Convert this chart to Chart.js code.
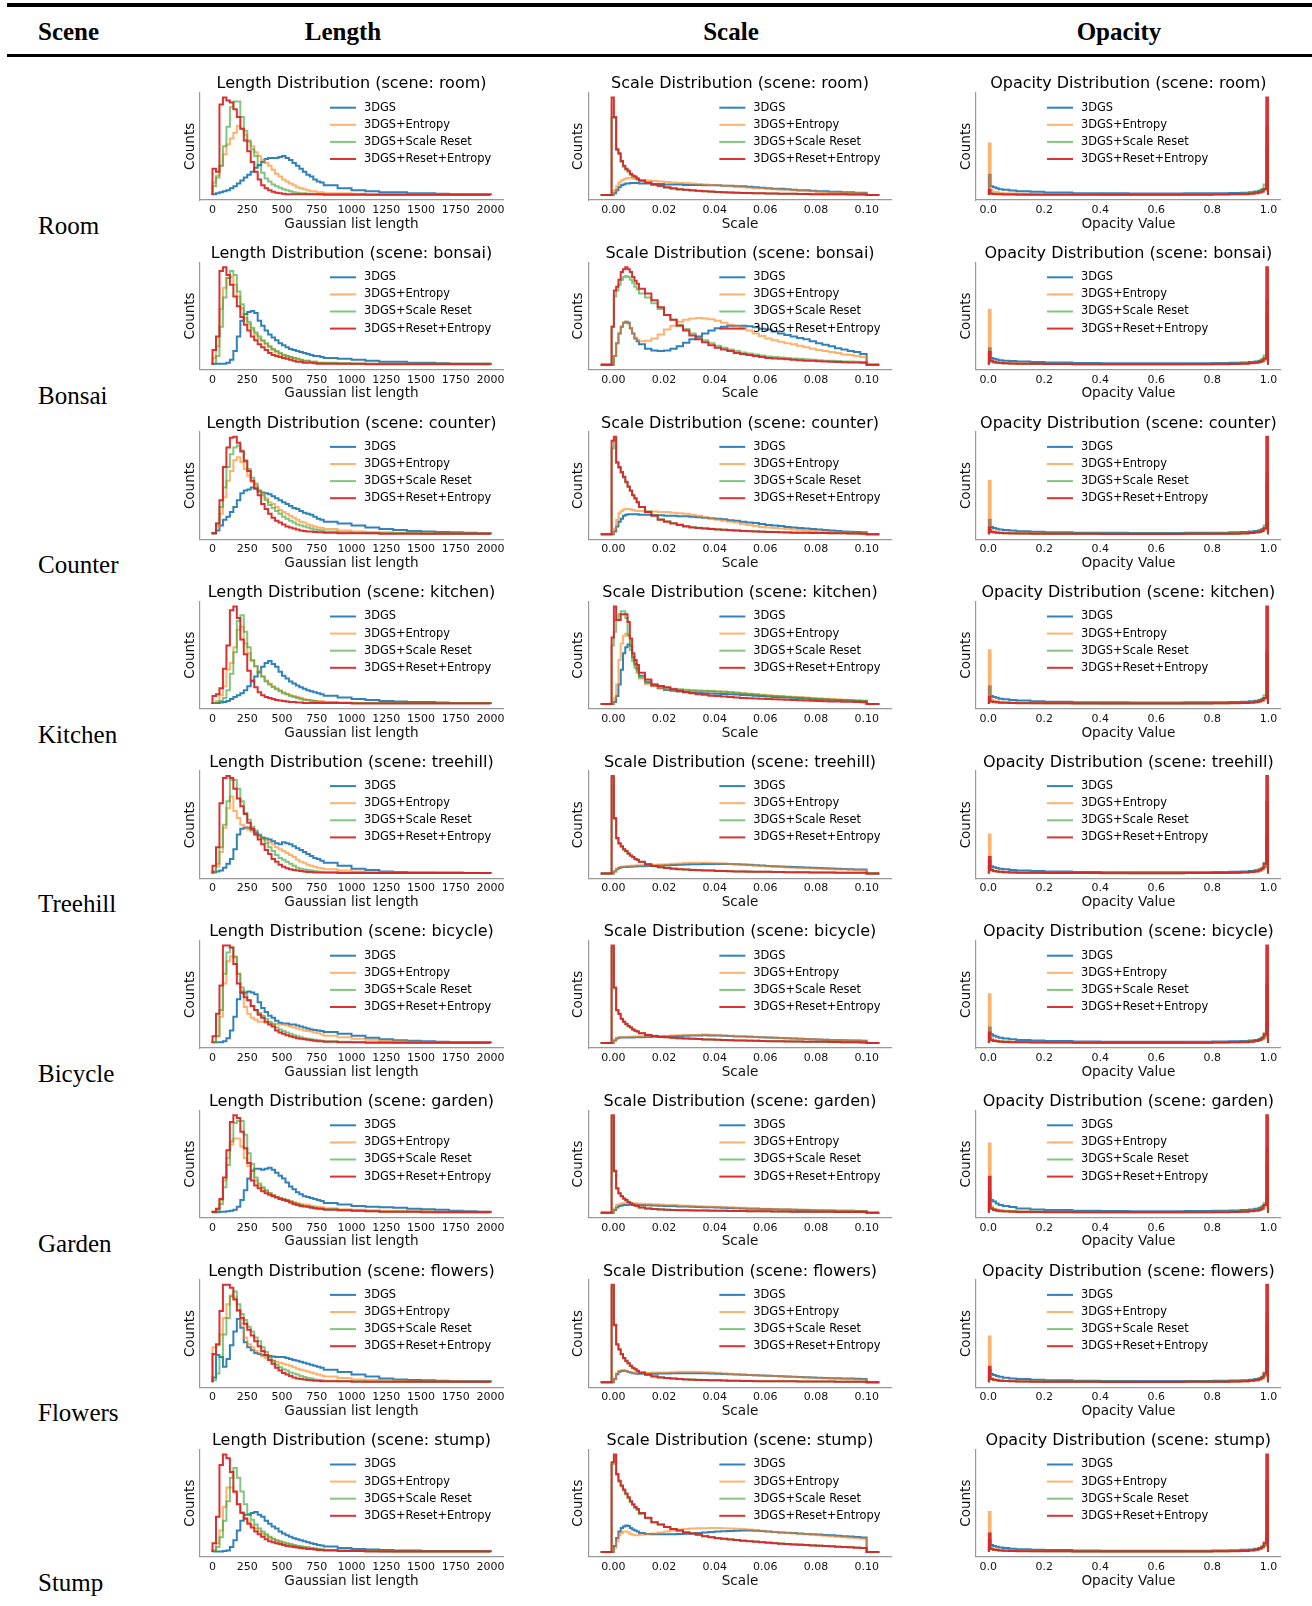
<!DOCTYPE html>
<html>
<head>
<meta charset="utf-8">
<script src="https://cdn.jsdelivr.net/npm/chart.js@4.4.1/dist/chart.umd.min.js"></script>
<style>
  body { margin: 0; background: #fff; width: 1312px; height: 1606px; position: relative; overflow: hidden; }
  .rule { position: absolute; left: 7px; width: 1305px; background: #000; }
  .head { position: absolute; top: 15px; height: 34px; line-height: 34px; font-family: "Liberation Serif", "Times New Roman", serif; font-weight: bold; font-size: 25px; color: #000; }
  .scene { position: absolute; left: 38px; height: 30px; line-height: 30px; font-family: "Liberation Serif", "Times New Roman", serif; font-size: 25px; color: #000; }
  canvas { position: absolute; }
</style>
</head>
<body>
<div class="rule" style="top:3px;height:4px"></div>
<div class="rule" style="top:54px;height:3px"></div>
<div class="head" style="left:38px">Scene</div>
<div class="head" style="left:243px;width:200px;text-align:center">Length</div>
<div class="head" style="left:631px;width:200px;text-align:center">Scale</div>
<div class="head" style="left:1019px;width:200px;text-align:center">Opacity</div>

<script>
// series + scenes
const seriesNames = ['3DGS', '3DGS+Entropy', '3DGS+Scale Reset', '3DGS+Reset+Entropy'];
const seriesColors = ['rgba(31,119,180,0.92)', 'rgba(255,127,14,0.6)', 'rgba(44,160,44,0.6)', 'rgba(214,39,40,0.95)'];
const scenes = ['room', 'bonsai', 'counter', 'kitchen', 'treehill', 'bicycle', 'garden', 'flowers', 'stump'];
const sceneLabels = ['Room', 'Bonsai', 'Counter', 'Kitchen', 'Treehill', 'Bicycle', 'Garden', 'Flowers', 'Stump'];

// bin edges
const lengthEdges = [0,25,50,75,100,125,150,175,200,225,250,275,300,325,350,375,400,425,450,475,500,525,550,575,600,625,650,675,700,725,750,775,800,900,1000,1100,1200,1300,1400,1500,1600,1700,1800,1900,2000];
const scaleEdges = [-0.0007,0.0002,0.0011,0.002,0.0029,0.0038,0.0047,0.0056,0.0065,0.0074,0.0083,0.0092,0.0101,0.0125,0.015,0.0175,0.02,0.0225,0.025,0.0275,0.03,0.0325,0.035,0.0375,0.04,0.0425,0.045,0.0475,0.05,0.0525,0.055,0.0575,0.06,0.0625,0.065,0.0675,0.07,0.0725,0.075,0.0775,0.08,0.0825,0.085,0.0875,0.09,0.0925,0.095,0.0975,0.1];
const scalePad = [-0.005, 0.105];
const opacityEdges = [0.002,0.008,0.017,0.027,0.037,0.052,0.075,0.1,0.15,0.2,0.3,0.4,0.5,0.6,0.7,0.8,0.86,0.9,0.93,0.95,0.965,0.975,0.983,0.9925,0.9985];

// ticks
const lengthTicks = [0,250,500,750,1000,1250,1500,1750,2000];
const lengthTickLabels = ['0','250','500','750','1000','1250','1500','1750','2000'];
const scaleTicks = [0,0.02,0.04,0.06,0.08,0.1];
const scaleTickLabels = ['0.00','0.02','0.04','0.06','0.08','0.10'];
const opacityTicks = [0,0.2,0.4,0.6,0.8,1.0];
const opacityTickLabels = ['0.0','0.2','0.4','0.6','0.8','1.0'];

// length histograms (% of panel max), rows: 3DGS, +Entropy, +Scale Reset, +Reset+Entropy
const lenRoom = [
  [1,2,3,4,5,7,9,12,15,18,21,24,28,31,34,37,38,38,38,39,40,38,36,33,30,27,24,21,19,16,14,13, 10,7,5,4,3,3,2,2,1.5,1,1,1],
  [13,20,30,42,52,58,64,71,68,62,56,50,44,40,36,33,30,26,22,19,16,14,12,10,8,7,6,5,4,4,3,3, 2,2,1.5,1,1,1,1,1,1,1,1,1],
  [9,18,30,50,70,90,96,96,80,66,55,47,40,30,23,17,14,11,9,7.5,6,5,4,3,2.5,2,2,1.5,1.5,1,1,1, 1,1,1,0.5,0.5,0.5,0.5,0.5,0.5,0.5,0.5,0.5],
  [27,24,93,100,97,95,88,80,68,56,45,34,24,16,10,7,5,3.5,2.5,2,1.5,1,1,1,1,1,1,1,1,1,1,1, 0.5,0.5,0.5,0.5,0.5,0.5,0.5,0.5,0.5,0.5,0.5,0.5]
];
const lenBonsai = [
  [1,1,1,1,2,5,14,29,45,52,54,55,53,45,40,35,31,28,25,22,20,18,16,15,14,13,12,11,10,9,9,8, 7,6,5,4,3,3,2,2,1.5,1,1,1],
  [7,19,57,79,89,90,82,70,58,48,42,36,31,27,24,21,18,15,13,11,10,9,8,7,6,5,4,4,3,3,2,2, 1.5,1,1,1,1,1,1,1,1,1,1,1],
  [1,9,39,69,89,96,92,75,62,52,44,38,33,29,25,22,19,16,14,12,10,9,8,7,6,5,4,4,3,3,2,2, 2,1.5,1,1,1,1,1,1,1,1,1,1],
  [15,29,96,100,92,82,70,60,49,41,35,29,25,21,18,15,12,10,9,8,7,6,5,4,3,3,2,2,2,1.5,1,1, 1,1,1,0.5,0.5,0.5,0.5,0.5,0.5,0.5,0.5,0.5]
];
const lenCounter = [
  [1,4,9,15,18,23,28,35,42,45,46,48,47,44,43,42,41,39,37,35,33,31,29,27,26,24,22,21,20,18,16,15, 13,11,9,7,5.5,4.5,3.5,3,2.5,2,1.5,1],
  [1,8,21,38,55,65,76,79,74,67,60,54,50,45,42,37,33,31,28,25,23,21,19,17,15,13,12,10,9,8,7,6.5, 5.5,4,3,2.5,2,1.5,1.5,1,1,1,1,1],
  [1,11,28,48,69,82,89,91,86,76,67,58,52,45,40,35,30,27,24,21,18,16,14,12,10,9,8,7,6,5,4.5,4, 3,2,1.5,1,1,1,1,0.5,0.5,0.5,0.5,0.5],
  [1,11,35,69,89,99,100,94,85,75,65,55,47,40,31,26,21,17,14,12,10,8,7,6,5,4,3.5,3,3,2.5,2,2, 1.5,1,1,1,0.5,0.5,0.5,0.5,0.5,0.5,0.5,0.5]
];
const lenKitchen = [
  [1,1,1.5,2,3,5,7,9,11,14,18,23,28,33,38,42,44,41,38,33,29,26,23,21,19,17,15.5,14,13,12,11,10, 8.5,6.5,5,4,3,2.5,2,2,1.5,1,1,1],
  [1,3,9,18,35,42,58,76,79,62,52,44,38,33,28,24,21,18,16,14,12,10,9,8,7,6,5,4,4,3,3,3, 2,1.5,1,1,1,1,1,1,1,1,1,1],
  [1,1,3,6,14,31,53,85,91,74,58,45,39,32,28,23,20,17,15,13,11,10,8,7,6,5,4,4,3,3,2,2, 1.5,1,1,1,1,1,1,1,1,1,1,1],
  [8,10,16,36,60,96,100,88,66,51,34,24,17,12,9,7,6,5,4,3.5,3,2.5,2,2,1.5,1.5,1,1,1,1,1,1, 1,1,0.5,0.5,0.5,0.5,0.5,0.5,0.5,0.5,0.5,0.5]
];
const lenTreehill = [
  [1,2,3,6,10,15,25,40,46,47,47,45,42,39,37,36,35,33,31,30,32,31,30,28,26,24,22,20,18,16,15,13, 11,8,5,3.5,2,1.5,1,1,1,1,0.5,0.5],
  [2,7,22,47,67,79,64,57,50,48,45,43,40,38,36,34,32,30,27,25,23,21,19,17,14,12,11,9,8,7,6,5.5, 4.5,3,2,1.5,1,1,1,1,0.5,0.5,0.5,0.5],
  [2,10,27,50,74,96,96,87,74,62,55,48,44,40,36,31,27,23,19,16,14,12,10,8,6,5,4,3.5,3,2.5,2,1.5, 1,1,1,0.5,0.5,0.5,0.5,0.5,0.5,0.5,0.5,0.5],
  [8,27,72,98,100,98,87,77,69,61,52,46,40,35,30,24,20,15,12,9,7,5.5,4.5,3.5,3,2.5,2,1.5,1.5,1,1,1, 1,0.5,0.5,0.5,0.5,0.5,0.5,0.5,0.5,0.5,0.5,0.5]
];
const lenBicycle = [
  [1,1,1,2,5,13,27,45,52,52,53,52,50,42,36,32,28,26,23,21,20,20,19,19,18,17,16,15,14,13.5,13,12.5, 11.5,9.5,7.5,5.5,4,3,2.5,2,1.5,1,1,1],
  [1,7,27,61,84,89,89,71,54,37,30,26,24,22,22,21,20,20,19.5,19,19,18,17,16,15,14,13,12.5,12,11,10,9, 7.5,6,4.5,3.5,2.5,2,1.5,1,1,1,1,0.5],
  [1,7,34,71,93,98,88,71,57,50,44,38,34,31,28,25,22,19,16,14,12.5,11,9.5,8,7,6,5,4.5,4,3.5,3,2.5, 2,1.5,1,1,1,0.5,0.5,0.5,0.5,0.5,0.5,0.5],
  [7,30,59,100,100,98,81,61,52,47,44,38,34,29,26,22,19,17,13,11,9.5,8,7,6,5,4.5,4,3.5,3,2.5,2,2, 1.5,1,1,0.5,0.5,0.5,0.5,0.5,0.5,0.5,0.5,0.5]
];
const lenGarden = [
  [0.5,0.5,1,1,1.5,2,3,6,13,23,35,43,45,45,44,45,46,44,41,38,35,31,27,24,21,19,17,16,15,14,13,12, 10,8.5,7,6,5.5,5,4,3.5,3,2,1.5,1],
  [1,4,13,33,56,70,76,76,68,56,48,44,33,28,25,22,20,18,16.5,15,14,13,12,11,10,9,8.5,8,7,6.5,6,5.5, 4.5,3.5,3,2.5,2,2,1.5,1.5,1,1,1,1],
  [0.5,2,9,26,49,73,92,94,94,80,61,50,36,30,26,23,20,18,16,15,14,13,11.5,10,9,8,7,6.5,6,5,4.5,4, 3.5,2.5,2,1.5,1,1,1,1,0.5,0.5,0.5,0.5],
  [1,4,14,36,64,93,100,97,83,66,51,33,28,25,22,20,18.5,17,15.5,14,13,12,10.5,9,8,7,6.5,6,5,4.5,4,4, 3,2.5,2,1.5,1,1,1,0.5,0.5,0.5,0.5,0.5]
];
const lenFlowers = [
  [5,28,26,16,24,38,52,65,56,41,36,33,30,29,28,27.5,27,26.5,26,26,26,25,24,23,22,21,20,19,18,17,16,15, 13,10.5,8,6,4,3,2.5,2,1.5,1,1,1],
  [36,38,49,66,80,89,87,73,60,46,39,36,32,30,27,25,23.5,22,21,20,19,18,17,15.5,14,13,12,11,10,9,8,7, 6,4.5,3,2.5,2,1.5,1,1,1,1,0.5,0.5],
  [2,9,26,49,66,88,93,80,70,64,57,52,46,42,36,31,26,22,18,15.5,13.5,12,10,9,8,6.5,5.5,4.5,4,3,2.5,2, 1.5,1,1,0.5,0.5,0.5,0.5,0.5,0.5,0.5,0.5,0.5],
  [29,39,73,100,100,97,85,74,66,60,54,48,42,37,32,28,23,19,15,12,9.5,8,6.5,5,4,3.5,3,2.5,2,1.5,1.5,1, 1,1,0.5,0.5,0.5,0.5,0.5,0.5,0.5,0.5,0.5,0.5]
];
const lenStump = [
  [0.5,0.5,0.5,1,1.5,5,12,22,32,38,38,40,41,38,36,32,29,26,24,21,19,17,15.5,14,13,12,11,10,9,8,7,6.5, 5.5,4,3,2.5,2,1.5,1.5,1,1,1,1,1],
  [2,9,22,46,66,66,61,49,41,35,31,27,24,21,19,16.5,14.5,13,11.5,10,9,8,7,6.5,6,5.5,5,4.5,4,3.5,3,2.5, 2,1.5,1,1,1,0.5,0.5,0.5,0.5,0.5,0.5,0.5],
  [1,5,15,32,52,76,86,76,62,49,39,33,28,24,21,18,15.5,13.5,12,11,10,9,8,7,6,5.5,5,4.5,4,3.5,3,2.5, 2,1.5,1,1,0.5,0.5,0.5,0.5,0.5,0.5,0.5,0.5],
  [9,36,89,100,96,82,62,49,40,34,29,25,21,18,15.5,13,11,10,9,8,7,6,5.5,5,4.5,4,3.5,3,3,2.5,2,2, 1.5,1,1,0.5,0.5,0.5,0.5,0.5,0.5,0.5,0.5,0.5]
];

// scale histograms
const scaleRoom = [
  [0,2,5,8,10,11,12,12,12.5,12.5,12.5,12.5, 12,12,11.5,11.5, 11,11,11,10.5, 10.5,10.5,10,10, 10,9.5,9.5,9, 9,8.5,8,7.5, 7,6.5,6.5,6, 5.5,5,5,4.5, 4,4,3.5,3.5, 3,3,2.5,2.5],
  [0,5,9,13,15,16,17,17.5,17.5,17,16.5,16, 15.5,15,14.5,14, 13.5,13,12.5,12.5, 12,11.5,11,10.5, 10,9.5,9,8.5, 8,7.5,7,7, 6.5,6,5.5,5.5, 5,4.5,4,4, 3.5,3,3,2.8, 2.5,2.3,2.1,2],
  [80,79,46,42,34,29,26,24,21,19,18,16, 14.5,12.5,10.5,9, 7.5,6.5,5.8,5.2, 4.8,4.3,3.9,3.5, 3.1,2.9,2.6,2.4, 2.2,2,1.9,1.8, 1.7,1.6,1.5,1.4, 1.3,1.2,1.1,1, 1,0.9,0.9,0.8, 0.8,0.7,0.7,0.6],
  [100,80,47,43,35,30,27,25,22,20,19,17, 15,13,11,9.5, 8,7,6,5.5, 5,4.5,4,3.6, 3.2,3,2.7,2.5, 2.3,2.1,2,1.8, 1.7,1.6,1.5,1.4, 1.3,1.2,1.1,1, 1,0.9,0.9,0.8, 0.8,0.7,0.7,0.6]
];
const scaleBonsai = [
  [0,9,22,32,39,43,44,43,37.5,32,27,24, 21,16.5,14.5,14, 14.5,16.5,19,22.5, 26,29,32,35, 37.5,39,40,40, 40,39.5,38.5,37, 36,34,32,30.5, 29,27.5,26,24, 22,20.5,19,17, 15.5,14,13,11],
  [0,9,22,32,39,43,44,42,37,32,28,25.5, 24,24.5,27,31, 36,40,44,46, 47.5,48,47.5,46.5, 45,43,41,39.5, 37.5,35,32,29.5, 27,25,23.5,22, 21,19.5,18,16.5, 15,14,13,12, 10.5,10,9,8],
  [39,70,76,82,87,90,91,90,87,84,80,77, 73,69,63,57, 51,46,41,36.5, 32,28,25,22, 19.5,17.5,15.5,14, 12.5,11.5,10.5,9.5, 8.5,8,7.5,7, 6.5,6,5.5,5, 4.5,4.2,4,3.7, 3.4,3.2,3,2.8],
  [39,76,80,87,95,98,100,98,95,90,86,83, 78,73,66,59, 51,46,40,35, 30,26,23,20, 17.5,15.5,14,12, 11,10,9,8, 7,6.5,6,5.5, 5,4.5,4.2,4, 3.6,3.3,3,2.8, 2.6,2.4,2.2,2]
];
const scaleCounter = [
  [0,3,8,13,16,19,20,20.5,20.5,20.5,20.5,20.5, 20,20,19.5,19.5, 19,19,18.5,18.5, 18,17.5,17,16.5, 16,15.5,14.5,14, 13,12,11.5,10.5, 9.5,9,8.5,7.5, 7,6.5,6,5.5, 5,4.5,4,3.5, 3,2.7,2.4,2],
  [0,6,15,21.5,24,25.5,26,26,25.5,25,24.5,24, 24,23.5,23.5,23, 23,22,21.5,21, 20,19,17.5,16, 15,14,13,12, 10.5,9.5,8.5,7.5, 7,6.5,6,5.5, 5,4.5,4,3.5, 3,2.8,2.5,2.2, 2,1.8,1.6,1.4],
  [88,97,73,68,63,58,53,48.5,44.5,40,36.5,33, 28,23.5,19.5,15.5, 13.5,11.5,10,8.5, 7.5,6.8,6.2,5.7, 5.2,4.8,4.4,4, 3.7,3.4,3.1,2.8, 2.6,2.4,2.2,2, 1.8,1.7,1.6,1.5, 1.4,1.3,1.2,1.1, 1,0.9,0.8,0.7],
  [96,100,74,69,64,59,54,49,45,40,37,33, 28,23,19,15, 13,11,9.5,8, 7,6.5,6,5.5, 5,4.6,4.2,3.8, 3.5,3.2,3,2.7, 2.5,2.3,2.1,1.9, 1.7,1.6,1.5,1.4, 1.4,1.3,1.2,1.1, 1,0.9,0.8,0.7]
];
const scaleKitchen = [
  [0,2,8,20,35,52,58,61,60,48,41,36, 29,22,18.5,16, 14.4,13.5,12.8,12.2, 11.7,11.4,11,10.8, 10.5,10.2,10,9.6, 9.2,8.8,8.4,8, 7.6,7.2,6.9,6.6, 6.2,5.8,5.5,5.1, 4.8,4.5,4.2,3.9, 3.7,3.5,3.3,3.1],
  [0,6,20,45,62,70,72,71,60,48,40,34, 26,20.5,18,16, 15,14.5,14,13.7, 13.4,13.2,13,12.9, 12.8,12.5,12,11.5, 11,10.5,10,9.5, 9,8.5,8,7.7, 7.4,7,6.5,6.1, 5.7,5.3,5,4.7, 4.4,4,3.7,3.4],
  [60,74,86,92,95,95,88,70,55,44,37,32, 27,23,20,18, 16.5,15.5,15,14.5, 14,13.8,13.5,13.2, 12.8,12.4,12,11.4, 10.7,10.2,9.6,9, 8.4,8,7.5,7, 6.7,6.3,5.9,5.5, 5,4.7,4.4,4, 3.7,3.4,3,2.7],
  [68,100,86,86,92,92,92,84,67,52,45,40, 32,25,20,18.5, 17,15,13.5,12, 11,10,9.5,8.5, 8,7.5,7,6.5, 6,5.8,5.5,5.2, 5,4.8,4.5,4.2, 4,3.8,3.5,3.2, 3,2.8,2.6,2.4, 2.3,2.1,1.9,1.7]
];
const scaleTreehill = [
  [0,2,4.4,5.7,6.4,6.6,6.8,7,7,7.2,7.3,7.4, 7.5,7.7,8,8.2, 8.4,8.7,9,9.3, 9.5,9.6,9.7,9.8, 9.8,9.8,9.7,9.5, 9.2,8.9,8.6,8.2, 7.8,7.5,7.2,7, 6.8,6.5,6.2,6, 5.7,5.5,5.2,5, 4.7,4.5,4.2,4],
  [0,2.3,5,6.4,7,7.3,7.5,7.7,7.9,8,8.2,8.4, 8.6,8.9,9.1,9.3, 9.5,10,10.4,10.7, 11,11,11,10.8, 10.5,10.2,9.8,9.4, 9,8.6,8.2,7.8, 7.4,7,6.6,6.3, 6,5.7,5.4,5.2, 5,4.7,4.4,4.2, 4,3.8,3.6,3.4],
  [98,56,36,30.5,27.5,24.5,22.5,20.3,18.3,16.7,14.8,13.8, 11.8,9.4,7.8,6.5, 5.8,5.1,4.5,4.1, 3.8,3.5,3.3,3.1, 2.8,2.6,2.4,2.2, 2.1,2,1.9,1.8, 1.7,1.6,1.5,1.4, 1.4,1.3,1.2,1.1, 1,1,1,0.9, 0.9,0.8,0.8,0.7],
  [100,57,36.5,31,28,25,23,20.6,18.6,17,15,14, 12,9.5,7.8,6.4, 5.7,5,4.4,4, 3.7,3.4,3.2,3, 2.7,2.5,2.3,2.1, 2,1.9,1.8,1.7, 1.7,1.6,1.5,1.4, 1.4,1.3,1.2,1.1, 1,1,1,0.9, 0.9,0.8,0.8,0.7]
];
const scaleBicycle = [
  [0,2.7,4.7,5.4,5.7,5.7,5.7,5.7,5.8,5.8,5.9,6, 6.1,6.3,6.5,6.6, 6.7,7,7.3,7.5, 7.7,7.8,8,7.9, 7.7,7.5,7.2,6.9, 6.7,6.5,6.2,6, 5.7,5.5,5.2,5, 4.7,4.5,4.2,4, 3.7,3.5,3.3,3.1, 3,2.8,2.6,2.4],
  [0,3.4,5.4,6,6.2,6.3,6.4,6.5,6.6,6.7,6.8,6.9, 7,7.1,7.2,7.3, 7.4,7.8,8.1,8.3, 8.4,8.6,8.8,8.5, 8,7.8,7.5,7.2, 7,6.7,6.3,6, 5.7,5.5,5.2,5, 4.7,4.5,4.2,4, 3.7,3.5,3.3,3.1, 3,2.8,2.6,2.4],
  [98,56,33.5,29.5,24.7,21.8,19.3,17.4,15.9,14,12.8,11.9, 10.1,8.5,7.5,6.5, 6.1,5.6,5.1,4.8, 4.5,4.2,3.9,3.7, 3.5,3.3,3.1,2.9, 2.8,2.6,2.5,2.3, 2.1,2,1.9,1.8, 1.7,1.6,1.5,1.4, 1.4,1.3,1.2,1.1, 1,0.9,0.8,0.7],
  [100,57,34,30,25,22,19.5,17.5,16,14,12.8,11.8, 10,8.4,7.4,6.4, 6,5.5,5,4.7, 4.4,4.1,3.8,3.6, 3.4,3.2,3,2.8, 2.7,2.5,2.4,2.2, 2,1.9,1.8,1.7, 1.7,1.6,1.5,1.4, 1.4,1.3,1.2,1.1, 1,0.9,0.8,0.7]
];
const scaleGarden = [
  [0,2.7,5.4,6.8,7.5,7.8,8,8.1,8.1,8,8,7.9, 7.8,7.6,7.4,7.2, 7,6.8,6.5,6.3, 6,5.9,5.7,5.6, 5.4,5.2,4.9,4.7, 4.4,4.2,4,3.9, 3.7,3.5,3.4,3.2, 3,2.9,2.7,2.6, 2.4,2.3,2.2,2.1, 2,1.9,1.8,1.7],
  [0,4.4,7.8,8.8,9.5,9.8,10,10,10,9.8,9.6,9.5, 9.2,9,8.7,8.4, 8,7.8,7.5,7.2, 7,6.7,6.5,6.2, 6,5.7,5.5,5.2, 5,4.7,4.5,4.2, 4,3.8,3.6,3.5, 3.4,3.2,3,2.9, 2.7,2.5,2.3,2.1, 2,1.9,1.8,1.7],
  [98,42,24.5,19.7,16.8,14.4,12.8,10.9,9.4,8.4,7.4,6.7, 5.4,4.4,3.8,3.5, 3.1,2.9,2.7,2.6, 2.5,2.4,2.3,2.2, 2.1,2,1.9,1.8, 1.7,1.6,1.5,1.5, 1.4,1.3,1.2,1.2, 1.1,1.1,1,1, 1,0.9,0.9,0.8, 0.8,0.8,0.7,0.7],
  [100,43,25,20,17,14.6,13,11,9.5,8.5,7.5,6.8, 5.4,4.4,3.7,3.4, 3,2.8,2.6,2.5, 2.4,2.3,2.2,2.1, 2,1.9,1.8,1.8, 1.7,1.6,1.5,1.5, 1.4,1.3,1.2,1.2, 1.1,1.1,1,1, 1,0.9,0.9,0.8, 0.8,0.8,0.7,0.7]
];
const scaleFlowers = [
  [0,3.4,8.4,10.8,11.5,11.8,11.5,10.5,10,9.4,9,8.8, 8.8,8.8,8.9,9, 9,9.2,9.3,9.4, 9.4,9.3,9.2,9, 8.8,8.5,8.2,7.9, 7.7,7.5,7.2,7, 6.7,6.5,6.2,6, 5.7,5.5,5.2,5, 4.7,4.5,4.3,4.1, 4,3.8,3.6,3.4],
  [0,4,9.4,11.8,12.5,12.5,11.5,10.6,9.8,9.6,9.6,9.7, 9.8,9.9,10,10, 10,10.4,10.8,10.8, 10.8,10.6,10.4,10.1, 9.8,9.4,8.8,8.4, 8,7.6,7.3,7, 6.7,6.4,6,5.7, 5.4,5.2,4.9,4.6, 4.4,4.1,3.8,3.6, 3.4,3.2,3,2.8],
  [98,58,38.5,33.5,28.6,24.7,21.7,19.3,16.8,14.8,13.3,11.7, 9.9,7.7,6.1,5.1, 4.5,4,3.5,3.1, 2.8,2.6,2.4,2.2, 2.1,1.9,1.7,1.6, 1.5,1.4,1.3,1.2, 1.1,1.1,1,1, 1,0.9,0.9,0.9, 0.8,0.8,0.8,0.7, 0.7,0.7,0.7,0.7],
  [100,59,39,34,29,25,22,19.5,17,15,13.5,11.8, 10,7.7,6,5, 4.4,3.9,3.4,3, 2.7,2.5,2.3,2.1, 2,1.8,1.6,1.5, 1.4,1.3,1.2,1.1, 1.1,1,1,1, 1,0.9,0.9,0.9, 0.8,0.8,0.8,0.7, 0.7,0.7,0.7,0.7]
];
const scaleStump = [
  [0,6,14.4,21,24.5,26,27,26.5,24.5,23,22,21, 19.5,18.5,18,18, 18,18,18.5,18.7, 19,19.5,20,20.5, 21,21.3,21.5,21.7, 22,22,21.8,21.5, 21,20.5,20,19.7, 19.5,19,18.5,18.2, 17.8,17.4,17,16.5, 16,15.7,15.4,14.9],
  [0,4.4,11,17,19.5,21,21,20,18.5,17.5,17,17, 17.5,18,19,20, 21,22,23,23.5, 24,24.2,24.3,24.4, 24.5,24.3,24,23.8, 23.5,23,22.5,21.8, 21,20.5,20,19.5, 19,18.5,18,17.5, 17,16.5,16,15.5, 15,14.5,14,13.5],
  [90,98,79,72,67,63,59,55,51,48,45,43, 39,34.5,30.5,28, 25.5,23.5,22,20.3, 19.2,17.8,16.4,15.3, 14.3,13.6,13,12.3, 11.6,11.1,10.6,10.1, 9.6,9.1,8.6,8.2, 7.8,7.5,7.1,6.8, 6.5,6.1,5.8,5.4, 5.1,4.8,4.5,4.1],
  [92,100,80,73,68,64,60,56,52,49,46,44, 40,35,30.5,28, 25.5,23.5,22,20, 19,17.5,16,15, 14,13.4,12.8,12.1, 11.4,10.9,10.4,9.9, 9.4,8.9,8.4,8, 7.7,7.4,7,6.7, 6.4,6,5.7,5.3, 5,4.7,4.4,4]
];

// opacity histograms
const opRoom = [
  [21,9,8,7,6,5.4,4.7,4,3.4,2.7,2,1.8,1.7,1.7,1.8,2,2.2,2.5,3,3.6,4.5,5.5,6.5,10],
  [53,5,3.5,3,2.5,2,1.7,1.4,1.2,1,0.8,0.7,0.7,0.7,0.8,1,1.2,1.5,2,2.5,3,4,5,70],
  [2.7,1.7,1.5,1.3,1.1,1,0.9,0.8,0.7,0.6,0.6,0.5,0.5,0.5,0.6,0.8,1,1.4,2,3,4.5,6,11,49],
  [5.4,1.5,1.2,1,0.8,0.7,0.6,0.5,0.5,0.4,0.4,0.4,0.4,0.4,0.5,0.6,0.8,1,1.4,2,2.7,3.4,6,100]
];
const opBonsai = [
  [17,7,6,5.4,4.7,4.2,3.7,3.2,2.7,2.2,1.8,1.6,1.5,1.5,1.6,1.8,2,2.3,2.8,3.3,4,5,6,10],
  [56,4,3,2.5,2,1.7,1.4,1.2,1,0.9,0.7,0.6,0.6,0.6,0.7,0.9,1.1,1.4,1.8,2.3,2.8,3.6,4.6,66],
  [4,2.5,2,1.7,1.4,1.2,1,0.9,0.8,0.7,0.6,0.5,0.5,0.5,0.6,0.8,1,1.3,1.8,2.6,3.8,5.5,9.5,51],
  [13,4,3,2.4,2,1.6,1.3,1.1,0.9,0.7,0.5,0.5,0.4,0.4,0.5,0.6,0.8,1,1.4,2,2.7,3.6,6.5,100]
];
const opCounter = [
  [15,7.5,6.5,5.8,5,4.4,3.8,3.2,2.7,2.2,1.7,1.5,1.4,1.4,1.5,1.7,2,2.3,2.8,3.4,4.2,5.2,6.5,11],
  [55,4.5,3.2,2.7,2.2,1.8,1.5,1.2,1,0.8,0.7,0.6,0.6,0.6,0.7,0.8,1,1.3,1.7,2.2,2.8,3.5,4.5,62],
  [4,2.5,2,1.7,1.4,1.2,1,0.9,0.8,0.7,0.6,0.5,0.5,0.5,0.6,0.7,0.9,1.2,1.7,2.5,3.6,5.2,9,52],
  [7,2.5,2,1.6,1.3,1.1,0.9,0.8,0.7,0.6,0.5,0.4,0.4,0.4,0.5,0.6,0.7,0.9,1.3,1.8,2.5,3.4,6,100]
];
const opKitchen = [
  [18,8,7,6.2,5.4,4.7,4,3.4,2.8,2.3,1.8,1.6,1.5,1.5,1.6,1.8,2,2.3,2.7,3.2,4,5,6,9],
  [55,4.5,3.2,2.7,2.2,1.8,1.5,1.2,1,0.8,0.7,0.6,0.6,0.6,0.7,0.8,1,1.3,1.7,2.2,2.8,3.5,4.5,55],
  [3,2.2,1.8,1.6,1.4,1.2,1,0.9,0.8,0.7,0.6,0.5,0.5,0.5,0.6,0.7,0.9,1.2,1.7,2.5,3.6,5.2,9,51],
  [7,2.5,2,1.6,1.3,1.1,0.9,0.8,0.7,0.6,0.5,0.4,0.4,0.4,0.5,0.6,0.7,0.9,1.3,1.8,2.5,3.4,6,100]
];
const opTreehill = [
  [13,7.5,6.5,5.7,5,4.3,3.6,3,2.5,2,1.6,1.4,1.3,1.3,1.4,1.6,1.9,2.2,2.7,3.3,4.2,5.4,7,38],
  [40,4.5,3.2,2.6,2.1,1.7,1.4,1.1,0.9,0.7,0.6,0.5,0.5,0.5,0.6,0.7,0.9,1.2,1.6,2.2,3,4,6,73],
  [7,3,2.4,2,1.6,1.3,1.1,0.9,0.8,0.6,0.5,0.5,0.4,0.4,0.5,0.7,0.9,1.2,1.8,2.7,4,6,11,73],
  [17,3.5,2.6,2.1,1.7,1.4,1.1,0.9,0.7,0.6,0.5,0.4,0.4,0.4,0.5,0.6,0.8,1,1.5,2.2,3.2,4.8,10,100]
];
const opBicycle = [
  [16,9,7.5,6.5,5.6,4.8,4,3.3,2.7,2.1,1.6,1.4,1.3,1.3,1.4,1.6,1.9,2.2,2.7,3.3,4.2,5.4,7,20],
  [50,5,3.5,2.8,2.2,1.8,1.5,1.2,1,0.8,0.6,0.5,0.5,0.5,0.6,0.8,1,1.3,1.7,2.3,3,4,5.5,60],
  [5,3,2.4,2,1.6,1.3,1.1,0.9,0.8,0.6,0.5,0.5,0.4,0.4,0.5,0.7,0.9,1.2,1.8,2.7,4,6,10,60],
  [11,3,2.3,1.9,1.5,1.2,1,0.8,0.7,0.6,0.5,0.4,0.4,0.4,0.5,0.6,0.8,1,1.5,2.2,3.2,4.8,9,100]
];
const opGarden = [
  [21,13,11.5,9.5,8,7,5.8,4.4,3.4,2.7,2,1.7,1.6,1.6,1.7,2,2.3,2.7,3.3,4,5,6.3,8,16],
  [71,6,4,3.2,2.6,2.1,1.7,1.4,1.1,0.9,0.7,0.6,0.6,0.6,0.7,0.9,1.1,1.4,1.9,2.5,3.2,4.2,5.5,65],
  [12,5,3.5,2.8,2.2,1.8,1.4,1.1,0.9,0.7,0.6,0.5,0.5,0.5,0.6,0.8,1,1.4,2,2.8,4,6,10,50],
  [37,4,2.7,2,1.6,1.3,1,0.8,0.7,0.6,0.5,0.4,0.4,0.4,0.5,0.6,0.8,1,1.4,2,2.8,4,8,100]
];
const opFlowers = [
  [13,8.5,7.5,6.5,5.6,4.8,4,3.3,2.7,2.1,1.6,1.4,1.3,1.3,1.4,1.6,1.9,2.2,2.7,3.3,4.2,5.4,7,27],
  [47,4.5,3.2,2.6,2.1,1.7,1.4,1.1,0.9,0.7,0.6,0.5,0.5,0.5,0.6,0.7,0.9,1.2,1.6,2.2,3,4,6,70],
  [7,3,2.4,2,1.6,1.3,1.1,0.9,0.8,0.6,0.5,0.5,0.4,0.4,0.5,0.7,0.9,1.2,1.8,2.7,4,6,10,59],
  [16,3.5,2.6,2.1,1.7,1.4,1.1,0.9,0.7,0.6,0.5,0.4,0.4,0.4,0.5,0.6,0.8,1,1.5,2.2,3.2,4.8,9,100]
];
const opStump = [
  [12,7,6,5.2,4.5,3.9,3.3,2.8,2.3,1.9,1.5,1.3,1.2,1.2,1.3,1.5,1.8,2.1,2.6,3.2,4,5,6.5,16],
  [41,4,3,2.5,2,1.6,1.3,1.1,0.9,0.7,0.6,0.5,0.5,0.5,0.6,0.7,0.9,1.2,1.6,2.2,3,4,6,50],
  [4,2.5,2,1.7,1.4,1.2,1,0.9,0.8,0.6,0.5,0.5,0.4,0.4,0.5,0.7,0.9,1.2,1.8,2.7,4,6,10,73],
  [19,3,2.3,1.9,1.5,1.2,1,0.8,0.7,0.6,0.5,0.4,0.4,0.4,0.5,0.6,0.8,1,1.5,2.2,3.2,4.8,9,100]
];

Chart.defaults.font.family = "'DejaVu Sans', sans-serif";
Chart.defaults.color = '#111';

const columns = [
  { name: 'Length', xTitle: 'Gaussian list length', edges: lengthEdges, pad: null, min: -90, max: 2090,
    ticks: lengthTicks, tickLabels: lengthTickLabels, areaLeft: 200, areaWidth: 303, legendX: 130,
    sets: [lenRoom, lenBonsai, lenCounter, lenKitchen, lenTreehill, lenBicycle, lenGarden, lenFlowers, lenStump] },
  { name: 'Scale', xTitle: 'Scale', edges: scaleEdges, pad: scalePad, min: -0.0099, max: 0.1099,
    ticks: scaleTicks, tickLabels: scaleTickLabels, areaLeft: 588.3, areaWidth: 303.4, legendX: 131,
    sets: [scaleRoom, scaleBonsai, scaleCounter, scaleKitchen, scaleTreehill, scaleBicycle, scaleGarden, scaleFlowers, scaleStump] },
  { name: 'Opacity', xTitle: 'Opacity Value', edges: opacityEdges, pad: null, min: -0.044, max: 1.044,
    ticks: opacityTicks, tickLabels: opacityTickLabels, areaLeft: 976, areaWidth: 304.7, legendX: 71,
    sets: [opRoom, opBonsai, opCounter, opKitchen, opTreehill, opBicycle, opGarden, opFlowers, opStump] }
];

// histogram outline like matplotlib histtype='step'
function stepPoints(edges, values, pad) {
  const pts = [];
  if (pad) pts.push({ x: pad[0], y: 0 });
  pts.push({ x: edges[0], y: 0 });
  values.forEach((v, i) => {
    pts.push({ x: edges[i], y: v });
    pts.push({ x: edges[i + 1], y: v });
  });
  pts.push({ x: edges[edges.length - 1], y: 0 });
  if (pad) pts.push({ x: pad[1], y: 0 });
  return pts;
}

// title + legend drawn relative to the plot area
const overlay = {
  id: 'overlay',
  afterDraw(chart, args, opts) {
    const { ctx, chartArea: a } = chart;
    ctx.save();
    ctx.fillStyle = '#000';
    ctx.textBaseline = 'middle';
    ctx.textAlign = 'center';
    ctx.font = "16px 'DejaVu Sans', sans-serif";
    ctx.fillText(opts.title, (a.left + a.right) / 2, a.top - 8.5);
    ctx.textAlign = 'left';
    ctx.font = "11.4px 'DejaVu Sans', sans-serif";
    chart.data.datasets.forEach((ds, i) => {
      const y = a.top + 15 + i * 17.1;
      const x = a.left + opts.legendX;
      ctx.strokeStyle = ds.borderColor;
      ctx.lineWidth = 2;
      ctx.beginPath();
      ctx.moveTo(x, y);
      ctx.lineTo(x + 26, y);
      ctx.stroke();
      ctx.fillText(ds.label, x + 34, y);
    });
    ctx.restore();
  }
};

const rowPitch = 169.6;
const spine = { display: true, color: '#999', width: 1.2 };

sceneLabels.forEach((lab, r) => {
  const d = document.createElement('div');
  d.className = 'scene';
  d.style.top = (226 + r * rowPitch - 15) + 'px';
  d.textContent = lab;
  document.body.appendChild(d);
});

columns.forEach(col => {
  scenes.forEach((scene, r) => {
    const top = 60 + r * rowPitch;
    const cTop = Math.floor(top);
    const frac = top - cTop;
    const cLeft = Math.floor(col.areaLeft - 30);
    const lFrac = col.areaLeft - 30 - cLeft;
    const W = Math.ceil(30 + lFrac + col.areaWidth + 12);
    const H = 175;
    const cv = document.createElement('canvas');
    cv.width = W; cv.height = H;
    cv.style.left = cLeft + 'px';
    cv.style.top = cTop + 'px';
    document.body.appendChild(cv);

    const datasets = seriesNames.map((name, k) => ({
      label: name,
      data: stepPoints(col.edges, col.sets[r][k], col.pad),
      borderColor: seriesColors[k],
      borderWidth: 2,
      borderJoinStyle: 'miter',
      pointRadius: 0,
      tension: 0,
      fill: false,
      order: 4 - k
    }));

    new Chart(cv, {
      type: 'line',
      data: { datasets },
      options: {
        responsive: false,
        animation: false,
        devicePixelRatio: 1,
        parsing: false,
        events: [],
        layout: { padding: { top: 32.7 + frac, left: lFrac, right: W - 30 - lFrac - col.areaWidth, bottom: 2 - frac } },
        plugins: {
          legend: { display: false },
          tooltip: { enabled: false },
          title: { display: false },
          overlay: { title: col.name + ' Distribution (scene: ' + scene + ')', legendX: col.legendX }
        },
        scales: {
          x: {
            type: 'linear', min: col.min, max: col.max,
            grid: { display: false, drawTicks: false },
            border: spine,
            afterBuildTicks: s => { s.ticks = col.ticks.map(v => ({ value: v })); },
            afterFit: s => { s.height = 33; s.paddingLeft = 0; s.paddingRight = 0; },
            ticks: {
              autoSkip: false, maxRotation: 0, minRotation: 0, padding: 3.6, color: '#111',
              font: { size: 11 },
              callback: (v, i) => col.tickLabels[i]
            },
            title: { display: true, text: col.xTitle, color: '#111', font: { size: 13.6 }, padding: { top: 0, bottom: 0.6 } }
          },
          y: {
            type: 'linear', min: -5, max: 105,
            grid: { display: false, drawTicks: false },
            border: spine,
            ticks: { display: false },
            afterFit: s => { s.width = 30; },
            title: { display: true, text: 'Counts', color: '#111', font: { size: 13.5 }, padding: { top: 12.4, bottom: 0 } }
          }
        }
      },
      plugins: [overlay]
    });
  });
});
</script>
</body>
</html>
